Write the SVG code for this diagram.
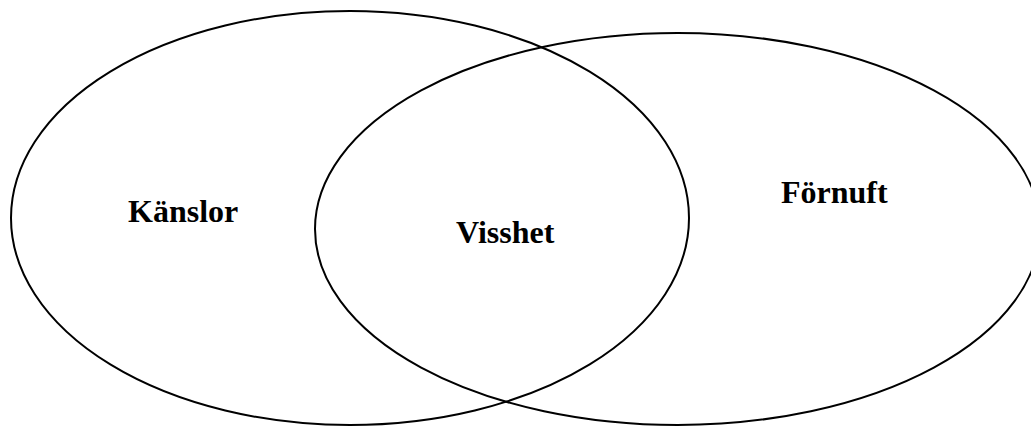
<svg xmlns="http://www.w3.org/2000/svg" width="1031" height="427" viewBox="0 0 1031 427">
<style>
.c{fill:none;stroke:#000;stroke-width:2}
.t{font-family:"Liberation Serif",serif;font-weight:bold;font-size:32px;fill:#000}
</style>
<rect width="1031" height="427" fill="#fff"/>
<g id="feelings"><ellipse class="c" cx="350" cy="218" rx="339" ry="207"/><text class="t" x="128" y="222">Känslor</text></g>
<g id="reason"><ellipse class="c" cx="677.5" cy="229" rx="362.5" ry="196"/><text class="t" x="781" y="203">Förnuft</text></g>
<g id="certainty"><text class="t" x="456" y="243">Visshet</text></g>
<g id="connectors"></g>
</svg>
